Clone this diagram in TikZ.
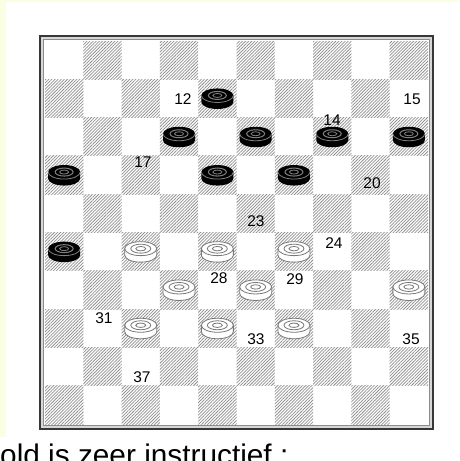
\documentclass[tikz,border=0pt]{standalone}
\usepackage{xcolor}
\usepackage{fontspec}
\setmainfont{Liberation Sans}
\usepackage{tikz}
\usetikzlibrary{patterns.meta}
\definecolor{paleyellow}{RGB}{250,255,228}
\definecolor{hatchgray}{RGB}{145,145,145}
\definecolor{framedark}{RGB}{55,55,55}
\definecolor{framelight}{RGB}{215,215,215}
\definecolor{framemid}{RGB}{140,140,140}
\definecolor{piecegray}{RGB}{120,120,120}
\begin{document}
\begin{tikzpicture}[x=1pt, y=-1pt, font=\fontsize{15.5}{18}\selectfont,
  hatch/.style={pattern={Lines[angle=45,distance=2.2pt,line width=0.75pt]}, pattern color=hatchgray},
  blackman/.pic={
    \fill[black] (-16,-3) -- (-16,3.5) arc[start angle=180, end angle=360, x radius=16pt, y radius=7pt] -- (16,-3) -- cycle;
    \fill[black] (0,-3) ellipse[x radius=16pt, y radius=7pt];
    \draw[gray, line width=0.8pt] (-16,-3) arc[start angle=180, end angle=360, x radius=16pt, y radius=7pt];
    \draw[gray, line width=1pt] (0,-3) ellipse[x radius=9pt, y radius=4pt];
    \draw[gray, line width=0.8pt] (0,-3) ellipse[x radius=4.5pt, y radius=2pt];
  },
  whiteman/.pic={
    \filldraw[fill=white, draw=piecegray, line width=0.8pt] (-16,-3) -- (-16,3.5) arc[start angle=180, end angle=360, x radius=16pt, y radius=7pt] -- (16,-3) -- cycle;
    \filldraw[fill=white, draw=piecegray, line width=0.8pt] (0,-3) ellipse[x radius=16pt, y radius=7pt];
    \draw[piecegray, line width=0.8pt] (0,-3) ellipse[x radius=10pt, y radius=4.5pt];
    \draw[piecegray, line width=0.8pt] (0,-3) ellipse[x radius=5pt, y radius=2.2pt];
  }]
\useasboundingbox (0,0) rectangle (459,461);
% page and margins
\fill[paleyellow] (0,0) rectangle (459,461);
\fill[white] (6,2) rectangle (459,461);
\fill[white] (0,437) rectangle (459,461);
% frame round the board
\fill[framedark] (39,35) rectangle (434,430);
\fill[framelight] (41,37) rectangle (432,428);
\fill[framemid] (43,39) rectangle (430,426);
\fill[white] (44,40) rectangle (429,425);
% hatched squares
\def\sq{38.3}
\foreach \r in {0,...,9}
  \foreach \c in {1,3,...,9}{
    \pgfmathtruncatemacro{\x}{\c-mod(\r,2)}
    \fill[hatch] (45+\sq*\x, 41+\sq*\r) rectangle ++(\sq,\sq);
  }
% black and white men
\foreach \c/\r in {4/1, 3/2, 5/2, 7/2, 9/2, 0/3, 4/3, 6/3, 0/5}
  \pic at (45+\sq*\c+\sq/2, 41+\sq*\r+\sq/2) {blackman};
\foreach \c/\r in {2/5, 4/5, 6/5, 3/6, 5/6, 9/6, 2/7, 4/7, 6/7}
  \pic at (45+\sq*\c+\sq/2, 41+\sq*\r+\sq/2) {whiteman};
% square numbers
\node (n12) at (183,99) {12};
\node (n15) at (412,99) {15};
\node (n14) at (332,120) {14};
\node (n17) at (143,162) {17};
\node (n20) at (372,183) {20};
\node (n23) at (256,221) {23};
\node (n24) at (334,243) {24};
\node (n28) at (219,278) {28};
\node (n29) at (295,279) {29};
\node (n31) at (104,318) {31};
\node (n33) at (256,339) {33};
\node (n35) at (411,339) {35};
\node (n37) at (142,377) {37};
% text under the board, cut by the page
\node[anchor=base west, inner sep=0pt, font=\fontsize{29.8}{34}\selectfont] (caption) at (0,465) {old is zeer instructief :};
\end{tikzpicture}
\end{document}
